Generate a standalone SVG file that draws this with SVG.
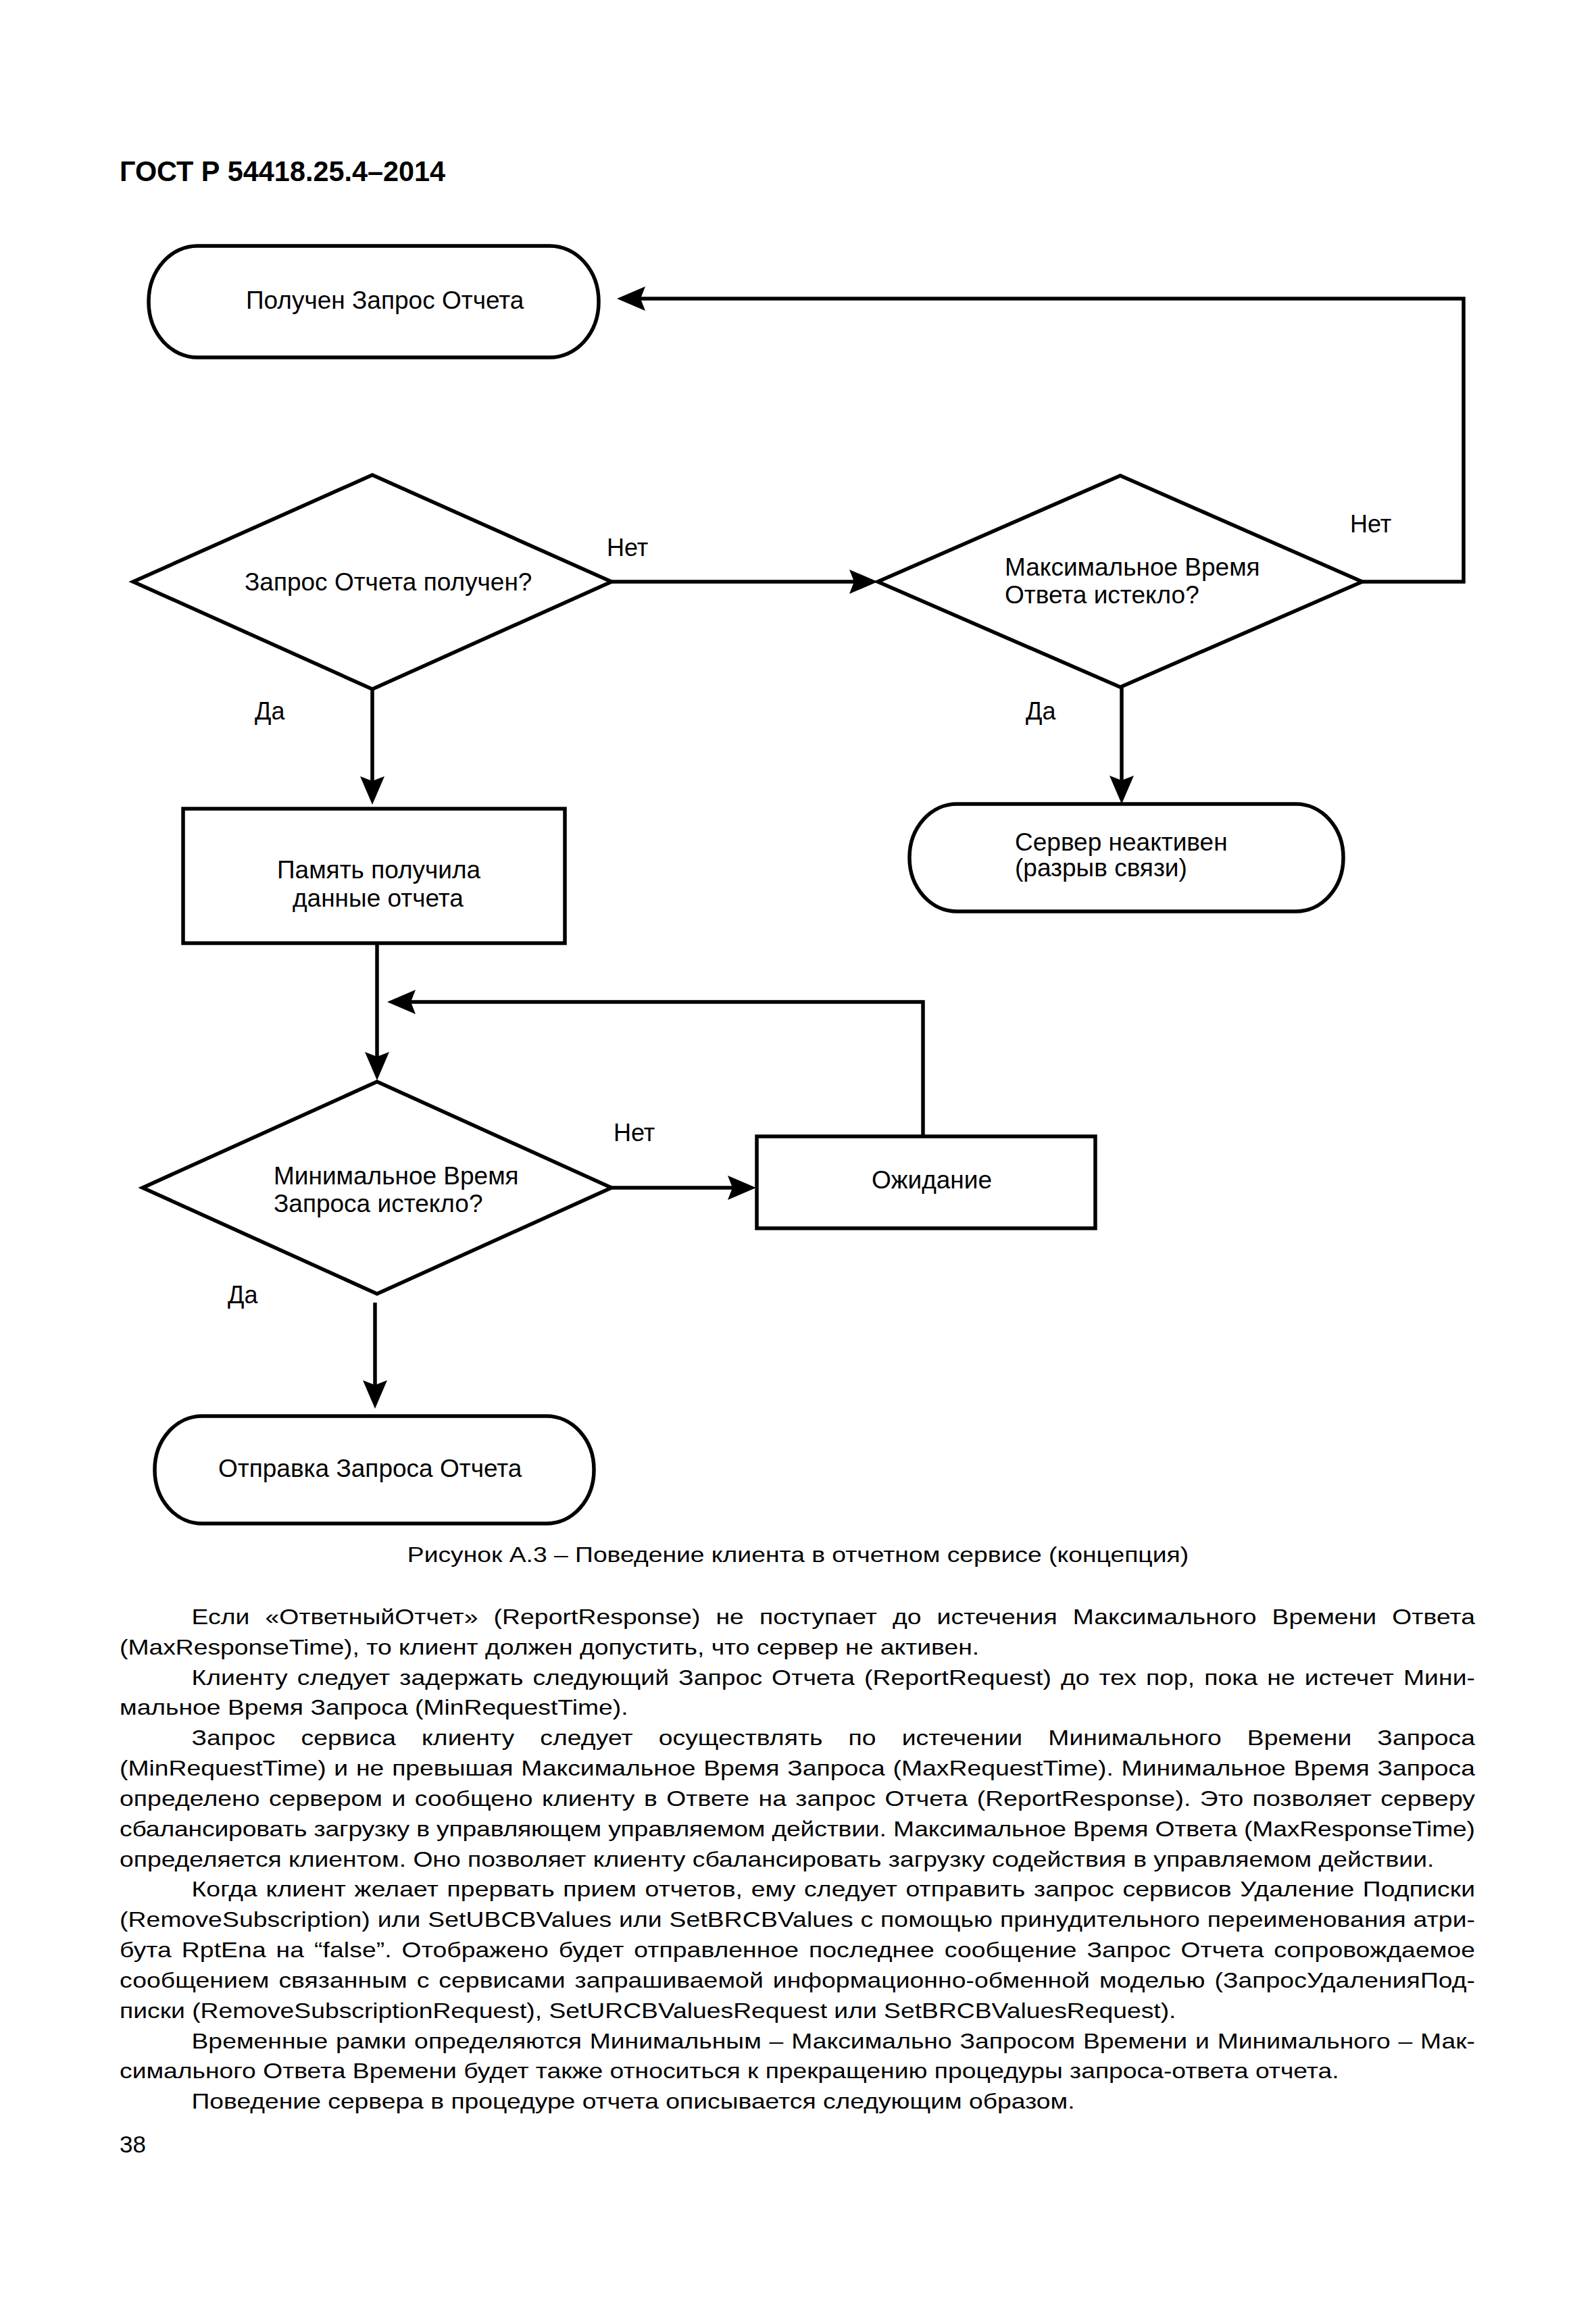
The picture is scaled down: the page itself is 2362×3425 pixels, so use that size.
<svg xmlns="http://www.w3.org/2000/svg" width="2362" height="3425" viewBox="0 0 2362 3425">
<style>
.shape{fill:#fff;stroke:#000;stroke-width:5.5;stroke-linejoin:miter}
.conn{fill:none;stroke:#000;stroke-width:5.5;marker-end:url(#ah)}
.conn0{fill:none;stroke:#000;stroke-width:5.5}
text{font-family:"Liberation Sans",Arial,sans-serif;fill:#000}
.t{font-size:37px}
.lbl{font-size:36px}
.body{font-size:32px}
.title{font-size:42px;font-weight:bold}
</style>
<defs>
<marker id="ah" markerUnits="userSpaceOnUse" viewBox="0 0 42 36" markerWidth="42" markerHeight="36" refX="10" refY="18" orient="auto">
<path d="M0,0 L42,18 L0,36 L7,18 Z" fill="#000"/>
</marker>
</defs>
<rect x="0" y="0" width="2362" height="3425" fill="#fff"/>
<text class="title" x="177" y="268" textLength="482" lengthAdjust="spacingAndGlyphs">ГОСТ Р 54418.25.4–2014</text>

<g id="connectors">
<path class="conn" d="M2016,861 H2166 V442 H945"/>
<path class="conn" d="M905,861 H1267"/>
<path class="conn" d="M551,1020 V1159"/>
<path class="conn" d="M1660,1017 V1158"/>
<path class="conn" d="M558,1396 V1567"/>
<path class="conn" d="M1366,1682 V1483 H605"/>
<path class="conn" d="M905,1758 H1087"/>
<path class="conn" d="M555,1928 V2053"/>
<text class="lbl" x="898" y="823">Нет</text>
<text class="lbl" x="1998" y="788">Нет</text>
<text class="lbl" x="908" y="1689">Нет</text>
<text class="lbl" x="377" y="1065">Да</text>
<text class="lbl" x="1518" y="1065">Да</text>
<text class="lbl" x="337" y="1929">Да</text>
</g>

<g id="n_start">
<rect class="shape" x="220" y="364" width="666" height="165" rx="72" ry="82"/>
<text class="t" x="364" y="457">Получен Запрос Отчета</text>
</g>
<g id="n_dec1">
<polygon class="shape" points="551,703 905,861 551,1020 197,861"/>
<text class="t" x="362" y="874">Запрос Отчета получен?</text>
</g>
<g id="n_dec2">
<polygon class="shape" points="1658,704 2016,861 1658,1017 1299,861"/>
<text class="t" x="1487" y="852">Максимальное Время</text>
<text class="t" x="1487" y="893">Ответа истекло?</text>
</g>
<g id="n_srv">
<rect class="shape" x="1346" y="1190" width="642" height="159" rx="70" ry="79"/>
<text class="t" x="1502" y="1259">Сервер неактивен</text>
<text class="t" x="1502" y="1297">(разрыв связи)</text>
</g>
<g id="n_mem">
<rect class="shape" x="271" y="1197" width="565" height="199"/>
<text class="t" x="410" y="1300">Память получила</text>
<text class="t" x="433" y="1342">данные отчета</text>
</g>
<g id="n_dec3">
<polygon class="shape" points="558,1601 905,1758 558,1915 211,1758"/>
<text class="t" x="405" y="1753">Минимальное Время</text>
<text class="t" x="405" y="1794">Запроса истекло?</text>
</g>
<g id="n_wait">
<rect class="shape" x="1120" y="1682" width="501" height="136"/>
<text class="t" x="1290" y="1759">Ожидание</text>
</g>
<g id="n_send">
<rect class="shape" x="229" y="2096" width="650" height="159" rx="70" ry="79"/>
<text class="t" x="323" y="2186">Отправка Запроса Отчета</text>
</g>

<text class="body" x="1181" y="2312" text-anchor="middle" transform="matrix(1.165,0,0,1,-194.9,0)">Рисунок А.3 – Поведение клиента в отчетном сервисе (концепция)</text>

<g id="bodytext" class="body" transform="matrix(1.165,0,0,1,-29.2,0)">
<text class="body" x="268.4" y="2404" word-spacing="10.8" textLength="1630.5" lengthAdjust="spacing">Если «ОтветныйОтчет» (ReportResponse) не поступает до истечения Максимального Времени Ответа</text>
<text class="body" x="177" y="2448.8">(MaxResponseTime), то клиент должен допустить, что сервер не активен.</text>
<text class="body" x="268.4" y="2493.7" word-spacing="3" textLength="1630.5" lengthAdjust="spacing">Клиенту следует задержать следующий Запрос Отчета (ReportRequest) до тех пор, пока не истечет Мини-</text>
<text class="body" x="177" y="2538.5">мальное Время Запроса (MinRequestTime).</text>
<text class="body" x="268.4" y="2583.3" word-spacing="23.7" textLength="1630.5" lengthAdjust="spacing">Запрос сервиса клиенту следует осуществлять по истечении Минимального Времени Запроса</text>
<text class="body" x="177" y="2628.2" word-spacing="1.2" textLength="1721.9" lengthAdjust="spacing">(MinRequestTime) и не превышая Максимальное Время Запроса (MaxRequestTime). Минимальное Время Запроса</text>
<text class="body" x="177" y="2673" word-spacing="2.5" textLength="1721.9" lengthAdjust="spacing">определено сервером и сообщено клиенту в Ответе на запрос Отчета (ReportResponse). Это позволяет серверу</text>
<text class="body" x="177" y="2717.8" textLength="1721.9" lengthAdjust="spacing">сбалансировать загрузку в управляющем управляемом действии. Максимальное Время Ответа (MaxResponseTime)</text>
<text class="body" x="177" y="2762.6">определяется клиентом. Оно позволяет клиенту сбалансировать загрузку содействия в управляемом действии.</text>
<text class="body" x="268.4" y="2807.5" word-spacing="1.8" textLength="1630.5" lengthAdjust="spacing">Когда клиент желает прервать прием отчетов, ему следует отправить запрос сервисов Удаление Подписки</text>
<text class="body" x="177" y="2852.3" word-spacing="0.3" textLength="1721.9" lengthAdjust="spacing">(RemoveSubscription) или SetUBCBValues или SetBRCBValues с помощью принудительного переименования атри-</text>
<text class="body" x="177" y="2897.1" word-spacing="3.8" textLength="1721.9" lengthAdjust="spacing">бута RptEna на “false”. Отображено будет отправленное последнее сообщение Запрос Отчета сопровождаемое</text>
<text class="body" x="177" y="2942" word-spacing="3" textLength="1721.9" lengthAdjust="spacing">сообщением связанным с сервисами запрашиваемой информационно-обменной моделью (ЗапросУдаленияПод-</text>
<text class="body" x="177" y="2986.8">писки (RemoveSubscriptionRequest), SetURCBValuesRequest или SetBRCBValuesRequest).</text>
<text class="body" x="268.4" y="3031.6" word-spacing="1.2" textLength="1630.5" lengthAdjust="spacing">Временные рамки определяются Минимальным – Максимально Запросом Времени и Минимального – Мак-</text>
<text class="body" x="177" y="3076.5">симального Ответа Времени будет также относиться к прекращению процедуры запроса-ответа отчета.</text>
<text class="body" x="268.4" y="3121.3">Поведение сервера в процедуре отчета описывается следующим образом.</text>
</g>
<text x="177" y="3186" style="font-size:35px">38</text>
</svg>
